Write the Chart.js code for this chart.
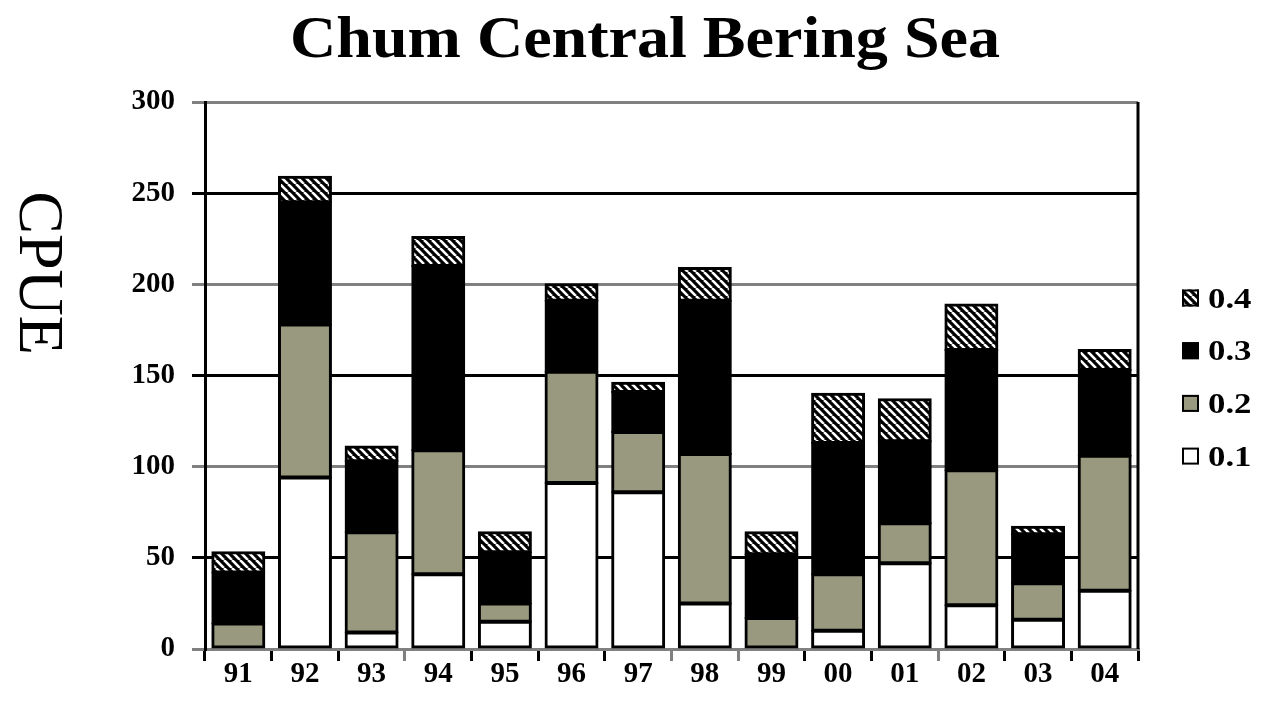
<!DOCTYPE html>
<html>
<head>
<meta charset="utf-8">
<title>Chum Central Bering Sea</title>
<script src="https://cdn.jsdelivr.net/npm/chart.js@4.4.1/dist/chart.umd.min.js"></script>
<style>
  html, body { margin: 0; padding: 0; background: #fff; }
  #wrap { width: 1261px; height: 713px; }
</style>
</head>
<body>
<div id="wrap"><canvas id="cpueChart" width="1261" height="713"></canvas></div>
<script>
// CPUE by ocean age, chum salmon, central Bering Sea
const years = ['91', '92', '93', '94', '95', '96', '97', '98', '99', '00', '01', '02', '03', '04'];
const age01 = [0, 94, 9, 41, 15, 91, 86, 25, 0, 10, 47, 24, 16, 32];
const age02 = [14, 84, 55, 68, 10, 61, 33, 82, 17, 31, 22, 74, 20, 74];
const age03 = [28, 67, 39, 101, 28, 39, 22, 84, 35, 72, 45, 66, 27, 47];
const age04 = [11, 14, 8, 16, 11, 9, 5, 18, 12, 27, 23, 25, 4, 11];
const yTickValues = [0, 50, 100, 150, 200, 250, 300];

const chartTitle = 'Chum Central Bering Sea';
const yTitle = 'CPUE';
const serif = '"Liberation Serif", "Times New Roman", serif';
const gray = '#808080';
const olive = '#999980';
const tickGray = [3, 7, 8, 11];

// black with white "\" stripes, like the 0.4 fill
function makeHatch() {
    const c = document.createElement('canvas');
    c.width = 8; c.height = 8;
    const g = c.getContext('2d');
    g.fillStyle = '#000';
    g.fillRect(0, 0, 8, 8);
    g.strokeStyle = '#fff';
    g.lineWidth = 2.6;
    [-8, 0, 8].forEach(x0 => {
        g.beginPath();
        g.moveTo(x0, 0);
        g.lineTo(x0 + 8, 8);
        g.stroke();
    });
    return g.createPattern(c, 'repeat');
}
const hatch = makeHatch();

const decor = {
    id: 'decor',
    afterDatasetsDraw(chart) {
        const { ctx, chartArea } = chart;
        // right frame line
        ctx.save();
        ctx.strokeStyle = '#000';
        ctx.lineWidth = 3;
        ctx.beginPath();
        ctx.moveTo(chartArea.right, chartArea.top);
        ctx.lineTo(chartArea.right, chartArea.bottom);
        ctx.stroke();
        ctx.restore();
    },
    afterDraw(chart) {
        const ctx = chart.ctx;

        // title, stretched a bit like the original
        ctx.save();
        ctx.fillStyle = '#000';
        ctx.font = 'bold 59px ' + serif;
        const w = ctx.measureText(chartTitle).width;
        ctx.translate(645, 57);
        ctx.scale(710 / w, 1);
        ctx.textAlign = 'center';
        ctx.textBaseline = 'alphabetic';
        ctx.fillText(chartTitle, 0, 0);
        ctx.restore();

        // y title, reads top to bottom
        ctx.save();
        ctx.fillStyle = '#000';
        ctx.font = '64px ' + serif;
        ctx.translate(41, 273);
        ctx.rotate(Math.PI / 2);
        ctx.textAlign = 'center';
        ctx.textBaseline = 'alphabetic';
        ctx.fillText(yTitle, 0, 21);
        ctx.restore();

        // legend, top item is the last series
        const sets = chart.data.datasets.slice().reverse();
        sets.forEach((ds, i) => {
            const cy = 298 + i * 52.7;
            ctx.save();
            ctx.fillStyle = ds.backgroundColor;
            ctx.fillRect(1182, cy - 8.5, 17, 17);
            ctx.strokeStyle = '#000';
            ctx.lineWidth = 2;
            ctx.strokeRect(1183, cy - 7.5, 15, 15);
            ctx.fillStyle = '#000';
            ctx.font = 'bold 29px ' + serif;
            ctx.textBaseline = 'alphabetic';
            ctx.translate(1208, cy + 9.5);
            ctx.scale(1.2, 1);
            ctx.fillText(ds.label, 0, 0);
            ctx.restore();
        });
    }
};

const barStyle = {
    borderColor: '#000',
    borderWidth: 3,
    borderSkipped: false,
    inflateAmount: 1,
    barPercentage: 0.78,
    categoryPercentage: 1
};

new Chart(document.getElementById('cpueChart'), {
    type: 'bar',
    data: {
        labels: years,
        datasets: [
            { label: '0.1', data: age01, backgroundColor: '#ffffff', ...barStyle },
            { label: '0.2', data: age02, backgroundColor: olive, ...barStyle },
            { label: '0.3', data: age03, backgroundColor: '#000000', ...barStyle },
            { label: '0.4', data: age04, backgroundColor: hatch, ...barStyle }
        ]
    },
    options: {
        responsive: false,
        animation: false,
        events: [],
        layout: { padding: { top: 102, right: 123, bottom: 0, left: 0 } },
        plugins: {
            legend: { display: false },
            title: { display: false },
            tooltip: { enabled: false }
        },
        scales: {
            x: {
                stacked: true,
                grid: {
                    offset: true,
                    drawOnChartArea: false,
                    drawTicks: true,
                    tickLength: 12,
                    lineWidth: 3,
                    tickColor: ctx => tickGray.includes(ctx.index) ? gray : '#000'
                },
                border: { display: true, color: gray, width: 3 },
                ticks: {
                    color: '#000',
                    font: { family: serif, size: 29, weight: 'bold' },
                    padding: -4,
                    maxRotation: 0,
                    autoSkip: false
                },
                afterFit: s => { s.height = 64; }
            },
            y: {
                stacked: true,
                min: 0,
                max: 300,
                afterBuildTicks: axis => { axis.ticks = yTickValues.map(v => ({ value: v })); },
                grid: {
                    color: ctx => (ctx.tick && ctx.tick.value % 100 === 0) ? gray : '#000',
                    lineWidth: 3,
                    tickLength: 13
                },
                border: { display: true, color: '#000', width: 3 },
                ticks: {
                    color: '#000',
                    font: { family: serif, size: 29, weight: 'bold' },
                    padding: 17
                },
                afterFit: s => { s.width = 205; }
            }
        }
    },
    plugins: [decor]
});
</script>
</body>
</html>
